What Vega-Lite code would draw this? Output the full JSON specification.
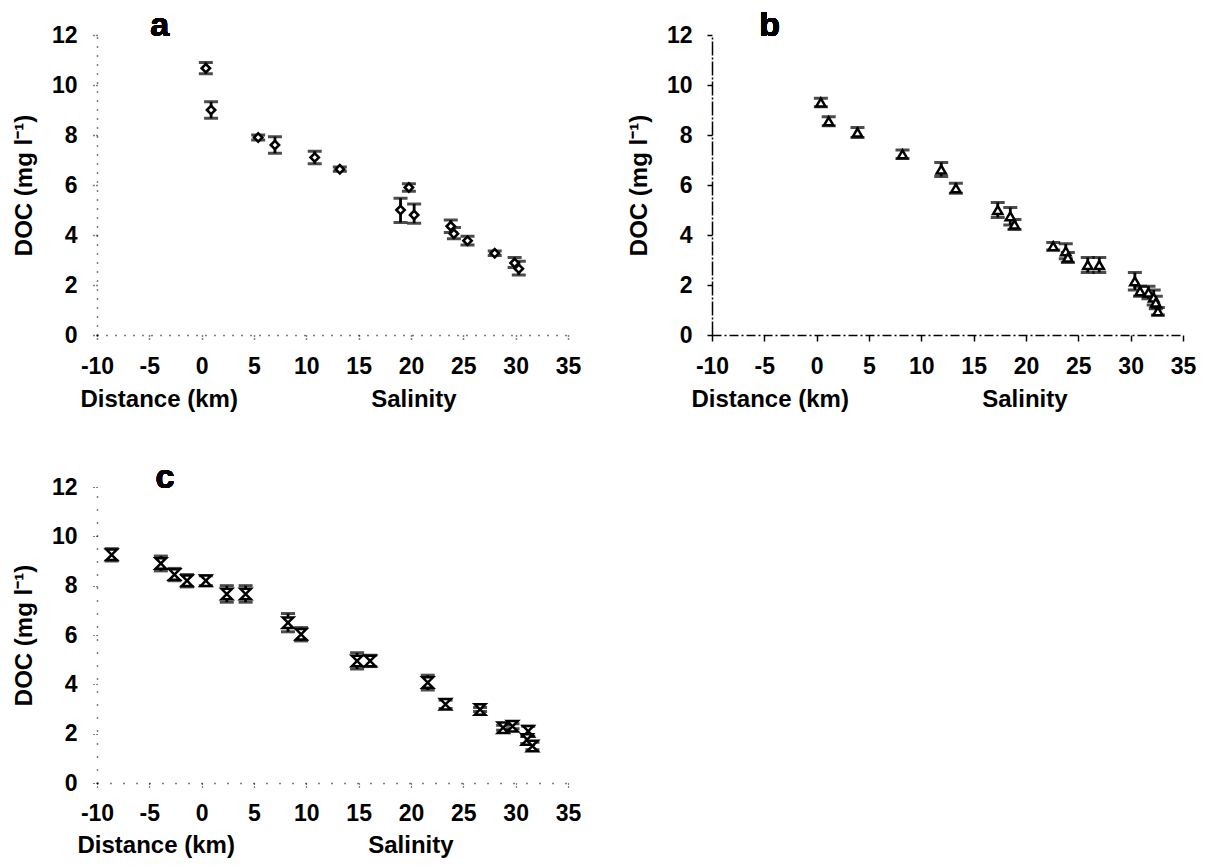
{
  "$schema": "https://vega.github.io/schema/vega-lite/v6.json",
  "background": "white",
  "padding": {"left": 12, "top": 9, "right": 5, "bottom": 2},
  "config": {
    "font": "Liberation Sans",
    "view": {"stroke": null},
    "axis": {
      "grid": false,
      "labelFont": "Liberation Sans",
      "labelFontSize": 23,
      "labelFontWeight": "bold",
      "labelColor": "black",
      "titleFont": "Liberation Sans",
      "titleFontSize": 24,
      "titleFontWeight": "bold",
      "titleColor": "black",
      "tickColor": "black",
      "domainColor": "black",
      "labelOverlap": false,
      "labelFlush": false,
      "labelExpr": "datum.value"
    },
    "text": {"font": "Liberation Sans", "fontSize": 34, "fontWeight": "bold", "baseline": "alphabetic", "align": "center", "color": "black"}
  },
  "datasets": {
    "a": [
      {"x": 0.4, "y": 10.67, "lo": 10.45, "hi": 10.9},
      {"x": 0.9, "y": 9.0, "lo": 8.67, "hi": 9.33},
      {"x": 5.4, "y": 7.9, "lo": 7.8, "hi": 8.0},
      {"x": 7.0, "y": 7.6, "lo": 7.27, "hi": 7.93},
      {"x": 10.8, "y": 7.1, "lo": 6.85, "hi": 7.35},
      {"x": 13.2, "y": 6.63, "lo": 6.55, "hi": 6.72},
      {"x": 19.8, "y": 5.9, "lo": 5.75, "hi": 6.05},
      {"x": 19.0, "y": 5.0, "lo": 4.5, "hi": 5.47},
      {"x": 20.3, "y": 4.8, "lo": 4.47, "hi": 5.24},
      {"x": 23.8, "y": 4.35, "lo": 4.1, "hi": 4.6},
      {"x": 24.1, "y": 4.05, "lo": 3.85, "hi": 4.3},
      {"x": 25.4, "y": 3.77, "lo": 3.6, "hi": 3.95},
      {"x": 28.0, "y": 3.27, "lo": 3.18, "hi": 3.36},
      {"x": 29.9, "y": 2.88, "lo": 2.7, "hi": 3.1},
      {"x": 30.3, "y": 2.65, "lo": 2.4, "hi": 2.95}
    ],
    "b": [
      {"x": 0.4, "y": 9.3, "lo": 9.13, "hi": 9.47},
      {"x": 1.15, "y": 8.55, "lo": 8.37, "hi": 8.73},
      {"x": 3.9, "y": 8.1, "lo": 7.9, "hi": 8.3},
      {"x": 8.2, "y": 7.23, "lo": 7.06, "hi": 7.4},
      {"x": 11.9, "y": 6.62, "lo": 6.34, "hi": 6.9},
      {"x": 13.3, "y": 5.87, "lo": 5.67, "hi": 6.07},
      {"x": 17.3, "y": 5.0, "lo": 4.7, "hi": 5.3},
      {"x": 18.5, "y": 4.75, "lo": 4.4, "hi": 5.1},
      {"x": 18.9, "y": 4.42, "lo": 4.22, "hi": 4.62},
      {"x": 22.6, "y": 3.55, "lo": 3.4, "hi": 3.7},
      {"x": 23.8, "y": 3.35, "lo": 3.05, "hi": 3.65},
      {"x": 24.0, "y": 3.1, "lo": 2.9, "hi": 3.3},
      {"x": 25.9, "y": 2.8, "lo": 2.5, "hi": 3.1},
      {"x": 27.0, "y": 2.8, "lo": 2.5, "hi": 3.1},
      {"x": 30.4, "y": 2.15, "lo": 1.8, "hi": 2.5},
      {"x": 30.9, "y": 1.75, "lo": 1.55, "hi": 1.95},
      {"x": 31.7, "y": 1.7, "lo": 1.45, "hi": 1.95},
      {"x": 32.2, "y": 1.5, "lo": 1.2, "hi": 1.8},
      {"x": 32.4, "y": 1.3, "lo": 1.05, "hi": 1.55},
      {"x": 32.6, "y": 0.95, "lo": 0.8, "hi": 1.1}
    ],
    "c": [
      {"x": -8.6, "y": 9.25, "lo": 9.0, "hi": 9.5},
      {"x": -3.9, "y": 8.9, "lo": 8.6, "hi": 9.2},
      {"x": -2.6, "y": 8.45, "lo": 8.2, "hi": 8.7},
      {"x": -1.4, "y": 8.2, "lo": 7.95, "hi": 8.45},
      {"x": 0.4, "y": 8.2, "lo": 8.0, "hi": 8.4},
      {"x": 2.4, "y": 7.66, "lo": 7.33, "hi": 8.0},
      {"x": 4.2, "y": 7.66, "lo": 7.33, "hi": 8.0},
      {"x": 8.25, "y": 6.5, "lo": 6.13, "hi": 6.87},
      {"x": 9.5, "y": 6.03, "lo": 5.76, "hi": 6.3},
      {"x": 14.85, "y": 4.95, "lo": 4.62, "hi": 5.28},
      {"x": 16.1, "y": 4.95, "lo": 4.72, "hi": 5.18},
      {"x": 21.6, "y": 4.07, "lo": 3.77, "hi": 4.37},
      {"x": 23.3, "y": 3.19, "lo": 3.02, "hi": 3.36},
      {"x": 26.6, "y": 2.98, "lo": 2.9, "hi": 3.06},
      {"x": 28.8, "y": 2.24, "lo": 2.14, "hi": 2.34},
      {"x": 29.7, "y": 2.3, "lo": 2.2, "hi": 2.4},
      {"x": 31.2, "y": 2.1, "lo": 1.9, "hi": 2.3},
      {"x": 31.1, "y": 1.76, "lo": 1.6, "hi": 1.92},
      {"x": 31.6, "y": 1.5, "lo": 1.35, "hi": 1.65}
    ]
  },
  "vconcat": [
    {
      "hconcat": [
        {
          "width": 471, "height": 300,
          "data": {"name": "a"},
          "encoding": {
            "x": {"field": "x", "type": "quantitative", "scale": {"domain": [-10, 35], "nice": false, "zero": false},
              "axis": {"values": [-10, -5, 0, 5, 10, 15, 20, 25, 30, 35], "title": "Distance (km)\u00a0\u00a0\u00a0\u00a0\u00a0\u00a0\u00a0\u00a0\u00a0\u00a0\u00a0\u00a0\u00a0\u00a0\u00a0\u00a0\u00a0\u00a0\u00a0\u00a0Salinity", "titleAnchor": "start", "titleAlign": "left", "titleBaseline": "top", "titleX": -17, "titleY": 52, "domainDash": [1, 8], "domainWidth": 1.5, "tickSize": 5, "tickWidth": 1.5, "tickDash": [1, 2], "labelPadding": 15}}
          },
          "layer": [
            {"mark": {"type": "errorbar", "ticks": {"size": 14, "thickness": 3, "color": "black"}, "thickness": 2.8, "color": "black"},
              "encoding": {"y": {"field": "lo", "type": "quantitative", "scale": {"domain": [0, 12], "nice": false}, "axis": {"values": [0, 2, 4, 6, 8, 10, 12], "title": "DOC (mg l⁻¹)", "domainDash": [1, 8], "domainWidth": 1.5, "tickSize": 5, "tickWidth": 1.5, "tickDash": [1, 2], "labelPadding": 15, "titlePadding": 15}}, "y2": {"field": "hi"}}},
            {"mark": {"type": "point", "shape": "diamond", "size": 70, "filled": true, "fill": "white", "stroke": "black", "strokeWidth": 2.5, "opacity": 1},
              "encoding": {"y": {"field": "y", "type": "quantitative", "axis": {"title": "DOC (mg l⁻¹)"}}}},
            {"mark": {"type": "text", "text": "a"},
              "encoding": {"x": {"datum": -4.0}, "y": {"datum": 11.95}}}
          ]
        },
        {
          "width": 471, "height": 300,
          "data": {"name": "b"},
          "encoding": {
            "x": {"field": "x", "type": "quantitative", "scale": {"domain": [-10, 35], "nice": false, "zero": false},
              "axis": {"values": [-10, -5, 0, 5, 10, 15, 20, 25, 30, 35], "title": "Distance (km)\u00a0\u00a0\u00a0\u00a0\u00a0\u00a0\u00a0\u00a0\u00a0\u00a0\u00a0\u00a0\u00a0\u00a0\u00a0\u00a0\u00a0\u00a0\u00a0\u00a0Salinity", "titleAnchor": "start", "titleAlign": "left", "titleBaseline": "top", "titleX": -21, "titleY": 52, "domainDash": [9, 3, 2, 3], "domainWidth": 1.5, "tickSize": 6, "tickWidth": 1.5, "labelPadding": 14}}
          },
          "layer": [
            {"mark": {"type": "errorbar", "ticks": {"size": 14, "thickness": 3, "color": "black"}, "thickness": 2.8, "color": "black"},
              "encoding": {"y": {"field": "lo", "type": "quantitative", "scale": {"domain": [0, 12], "nice": false}, "axis": {"values": [0, 2, 4, 6, 8, 10, 12], "title": "DOC (mg l⁻¹)", "domainDash": [14, 2, 2, 2], "domainWidth": 1.5, "tickSize": 5, "tickWidth": 1.5, "labelPadding": 15, "titlePadding": 15}}, "y2": {"field": "hi"}}},
            {"mark": {"type": "point", "shape": "triangle-up", "size": 85, "filled": true, "fill": "white", "stroke": "black", "strokeWidth": 2.5, "opacity": 1},
              "encoding": {"y": {"field": "y", "type": "quantitative", "axis": {"title": "DOC (mg l⁻¹)"}}}},
            {"mark": {"type": "text", "text": "b"},
              "encoding": {"x": {"datum": -4.5}, "y": {"datum": 11.95}}}
          ]
        }
      ],
      "spacing": 46
    },
    {
      "width": 471, "height": 296,
      "data": {"name": "c"},
      "encoding": {
        "x": {"field": "x", "type": "quantitative", "scale": {"domain": [-10, 35], "nice": false, "zero": false},
          "axis": {"values": [-10, -5, 0, 5, 10, 15, 20, 25, 30, 35], "title": "Distance (km)\u00a0\u00a0\u00a0\u00a0\u00a0\u00a0\u00a0\u00a0\u00a0\u00a0\u00a0\u00a0\u00a0\u00a0\u00a0\u00a0\u00a0\u00a0\u00a0\u00a0Salinity", "titleAnchor": "start", "titleAlign": "left", "titleBaseline": "top", "titleX": -20, "titleY": 50, "domainDash": [1, 12], "domainWidth": 1.5, "tickSize": 4, "tickWidth": 1.2, "tickDash": [1, 2], "labelPadding": 15}}
      },
      "layer": [
        {"mark": {"type": "errorbar", "ticks": {"size": 14, "thickness": 3, "color": "black"}, "thickness": 2.8, "color": "black"},
          "encoding": {"y": {"field": "lo", "type": "quantitative", "scale": {"domain": [0, 12], "nice": false}, "axis": {"values": [0, 2, 4, 6, 8, 10, 12], "title": "DOC (mg l⁻¹)", "domainDash": [1, 12], "domainWidth": 1.5, "tickSize": 4, "tickWidth": 1.2, "tickDash": [1, 2], "labelPadding": 16, "titlePadding": 15}}, "y2": {"field": "hi"}}},
        {"mark": {"type": "point", "shape": "M-1,-1L1,-1L-1,1L1,1Z", "size": 110, "filled": true, "fill": "white", "stroke": "black", "strokeWidth": 2.5, "opacity": 1},
          "encoding": {"y": {"field": "y", "type": "quantitative", "axis": {"title": "DOC (mg l⁻¹)"}}}},
        {"mark": {"type": "text", "text": "c"},
          "encoding": {"x": {"datum": -3.5}, "y": {"datum": 11.95}}}
      ]
    }
  ],
  "spacing": 50
}
